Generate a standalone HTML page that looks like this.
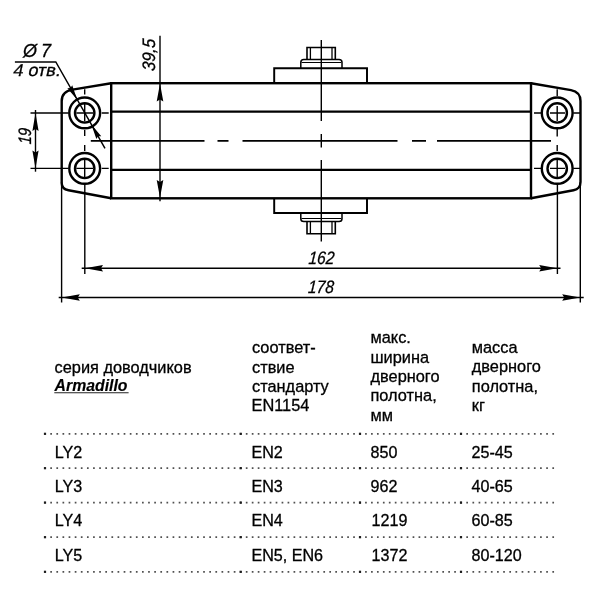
<!DOCTYPE html>
<html lang="ru">
<head>
<meta charset="utf-8">
<title>Armadillo LY</title>
<style>
html,body{margin:0;padding:0;background:#fff;}
body{width:600px;height:600px;overflow:hidden;}
svg{display:block;will-change:transform;}
.tk{stroke:#000;stroke-width:2.4;fill:none;stroke-linejoin:miter;stroke-linecap:butt;}
.md{stroke:#000;stroke-width:1.7;fill:none;}
.tn{stroke:#000;stroke-width:1.4;fill:none;}
.ar{fill:#000;stroke:none;}
.dim{font-family:"Liberation Sans",sans-serif;font-style:italic;font-size:18px;fill:#000;stroke:#000;stroke-width:0.3px;}
.t{font-family:"Liberation Sans",sans-serif;font-size:16.35px;fill:#000;stroke:#000;stroke-width:0.3px;}
.dots{stroke:#505050;stroke-width:1.7;fill:none;}
</style>
</head>
<body>
<svg width="600" height="600" viewBox="0 0 600 600">
<rect width="600" height="600" fill="#fff"/>

<!-- ===== BODY OUTLINE ===== -->
<g class="tk">
  <!-- main body -->
  <rect x="111.2" y="83.2" width="419.8" height="115.1"/>
  <line x1="111.2" y1="111.6" x2="531" y2="111.6"/>
  <line x1="111.2" y1="169.9" x2="531" y2="169.9"/>
  <!-- left bracket -->
  <path d="M111.2 83.2 L72.5 89.6 Q61.7 91.4 61.7 101 L61.7 183 Q61.7 189 68.5 190.3 L111.2 198.3"/>
  <!-- right bracket -->
  <path d="M531 83.2 L571 90.1 Q580.5 92 580.5 101 L580.5 182 Q580.5 189 573.5 190.3 L531 198.3"/>
  <!-- holes -->
  <circle cx="84.7" cy="112.9" r="15.4"/>
  <circle cx="84.7" cy="112.9" r="9.7"/>
  <circle cx="84.7" cy="168.4" r="15.4"/>
  <circle cx="84.7" cy="168.4" r="9.7"/>
  <circle cx="557.2" cy="112.9" r="15.4"/>
  <circle cx="557.2" cy="112.9" r="9.7"/>
  <circle cx="557.2" cy="168.4" r="15.4"/>
  <circle cx="557.2" cy="168.4" r="9.7"/>
</g>

<!-- plates and bolts -->
<g class="tk" style="stroke-width:1.95">
  <!-- top plate -->
  <path d="M274.2 83.2 V68.3 H367 V83.2"/>
  <!-- top washer -->
  <path d="M300.8 68.3 V62.3 Q300.8 59.5 303.8 59.5 H339 Q342 59.5 342 62.3 V68.3" style="stroke-width:1.5"/>
  <line x1="301.5" y1="62.5" x2="341.3" y2="62.5" style="stroke-width:1"/>
  <!-- top bolt head -->
  <path d="M307 59.4 V47.5 H335.3 V59.4" style="stroke-width:1.6"/>
  <line x1="310.4" y1="47.5" x2="310.4" y2="59.4" style="stroke-width:1.3"/>
  <line x1="332" y1="47.5" x2="332" y2="59.4" style="stroke-width:1.3"/>
  <!-- bottom plate -->
  <path d="M274.2 198.3 V213 H367 V198.3"/>
  <!-- bottom washer -->
  <path d="M300.8 213 V218.7 Q300.8 221.5 303.8 221.5 H339 Q342 221.5 342 218.7 V213" style="stroke-width:1.5"/>
  <line x1="301.5" y1="218.5" x2="341.3" y2="218.5" style="stroke-width:1"/>
  <!-- bottom bolt head -->
  <path d="M307 221.6 V233.7 H335.3 V221.6" style="stroke-width:1.6"/>
  <line x1="310.4" y1="221.6" x2="310.4" y2="233.7" style="stroke-width:1.3"/>
  <line x1="332" y1="221.6" x2="332" y2="233.7" style="stroke-width:1.3"/>
</g>

<!-- ===== CENTER LINES ===== -->
<g class="md">
  <!-- horizontal axis -->
  <path d="M90.8 140.8 H204.5 M217.5 140.8 H228.5 M242.5 140.8 H397.5 M412 140.8 H426 M437 140.8 H551"/>
</g>
<g class="tn">
  <!-- vertical axis through bolts -->
  <path d="M321.3 40 V121 M321.3 134 V147.5 M321.3 160 V241.5"/>
  <!-- hole axes left -->
  <path d="M84.7 89.2 V94.5 M84.7 104 V121.5 M84.7 130 V136 M84.7 145 V151 M84.7 159.5 V177"/>
  <path d="M76.3 113 H93 M101.7 113 H108.7 M76.3 168.4 H93 M101.7 168.4 H108.7"/>
  <!-- hole axes right -->
  <path d="M557.2 89.2 V96 M557.2 106 V121 M557.2 127.5 V136.5 M557.2 145 V151 M557.2 159.5 V177"/>
  <path d="M534 113 H541.5 M550 113 H565 M573.3 113 H580 M534 168.4 H541.5 M550 168.4 H565 M573.3 168.4 H580"/>
</g>

<!-- ===== DIMENSIONS ===== -->
<g class="tn">
  <!-- 19 -->
  <line x1="30.5" y1="113" x2="68.5" y2="113"/>
  <line x1="30.5" y1="168.4" x2="68.5" y2="168.4"/>
  <line x1="35.5" y1="110" x2="35.5" y2="171.7"/>
  <!-- 39,5 -->
  <line x1="160" y1="35.8" x2="160" y2="201.3"/>
  <!-- extension lines down -->
  <line x1="61.6" y1="182" x2="61.6" y2="302.5"/>
  <line x1="84.8" y1="184" x2="84.8" y2="274"/>
  <line x1="557.4" y1="184" x2="557.4" y2="274"/>
  <line x1="580.3" y1="182" x2="580.3" y2="302.5"/>
  <!-- 162 / 178 -->
  <line x1="81.7" y1="268.3" x2="560.5" y2="268.3"/>
  <line x1="58.7" y1="297.5" x2="583.7" y2="297.5"/>
  <!-- leader -->
  <path d="M14.9 62 H55.8 L105 148.3" style="stroke-width:1.45"/>
</g>
<g class="ar">
  <!-- 19 arrows -->
  <path d="M35.5 113 L38.6 131 L35.5 129 L32.4 131 Z"/>
  <path d="M35.5 168.4 L38.6 150.4 L35.5 152.4 L32.4 150.4 Z"/>
  <!-- 39,5 arrows -->
  <path d="M160 83.5 L163.3 101.5 L160 99.5 L156.7 101.5 Z"/>
  <path d="M160 197.8 L163.3 180 L160 182 L156.7 180 Z"/>
  <!-- 162 arrows -->
  <path d="M85 268.3 L103 265.1 L101 268.3 L103 271.5 Z"/>
  <path d="M557.2 268.3 L539.2 265.1 L541.2 268.3 L539.2 271.5 Z"/>
  <!-- 178 arrows -->
  <path d="M61.8 297.5 L79.8 294.3 L77.8 297.5 L79.8 300.7 Z"/>
  <path d="M580.2 297.5 L562.2 294.3 L564.2 297.5 L562.2 300.7 Z"/>
  <!-- leader arrows -->
  <g transform="translate(77.2,99.8) rotate(60.4)"><path d="M0 0 L-15 -2.8 L-13.5 0 L-15 2.8 Z"/></g>
  <g transform="translate(91.4,124.6) rotate(240.4)"><path d="M0 0 L-15 -2.8 L-13.5 0 L-15 2.8 Z"/></g>
</g>

<!-- dimension texts -->
<g class="dim">
  <text transform="translate(41.1 57.4) scale(1 1.02)">7</text>
  <!-- diameter sign -->
  <text transform="translate(22.9 57.3) scale(1.02 1)" font-size="17.6">Ø</text>
  <text font-style="normal" font-size="17.2" transform="translate(12.4 76.4) skewX(-12) scale(1.05 1)">4 отв.</text>
  <text transform="translate(31 144.6) rotate(-90) skewX(-4) scale(0.81 1)">19</text>
  <text transform="translate(155.2 71.3) rotate(-90) skewX(-4) scale(0.92 1)">39,5</text>
  <text transform="translate(308.2 263.8) skewX(-4) scale(0.86 1)">162</text>
  <text transform="translate(307.7 293) skewX(-4) scale(0.86 1)">178</text>
</g>

<!-- ===== TABLE ===== -->
<g class="t" transform="translate(0 0.4)">
  <text x="54.6" y="373">серия доводчиков</text>
  <text x="54.6" y="390.4" font-weight="bold" font-style="italic" style="font-size:15.8px;stroke-width:0.15px">Armadillo</text>
  <line x1="54.3" y1="392.3" x2="128.6" y2="392.3" style="stroke:#222;stroke-width:1.1px"/>

  <text x="252" y="353">соответ-</text>
  <text x="252" y="372.2">ствие</text>
  <text x="252" y="391.4">стандарту</text>
  <text x="251.5" y="411">EN1154</text>

  <text x="370.5" y="343">макс.</text>
  <text x="370.5" y="362.4">ширина</text>
  <text x="370.5" y="381.7">дверного</text>
  <text x="370.5" y="401.1">полотна,</text>
  <text x="370.5" y="420.4">мм</text>

  <text x="471.8" y="352.5">масса</text>
  <text x="471.8" y="371.8">дверного</text>
  <text x="471.8" y="391.2">полотна,</text>
  <text x="471.8" y="410.5">кг</text>

  <g transform="translate(0 0.2)" style="font-size:16.1px">
  <text x="54.7" y="457.2">LY2</text>
  <text x="54.7" y="491.5">LY3</text>
  <text x="54.7" y="525.8">LY4</text>
  <text x="54.7" y="560.0">LY5</text>

  <text x="251.5" y="457.2">EN2</text>
  <text x="251.5" y="491.5">EN3</text>
  <text x="251.5" y="525.8">EN4</text>
  <text x="251.5" y="560.0">EN5, EN6</text>

  <text x="370.5" y="457.2">850</text>
  <text x="370.5" y="491.5">962</text>
  <text x="371.6" y="525.8">1219</text>
  <text x="371.6" y="560.0">1372</text>

  <text x="471.5" y="457.2">25-45</text>
  <text x="471.5" y="491.5">40-65</text>
  <text x="471.5" y="525.8">60-85</text>
  <text x="471.5" y="560.0">80-120</text>
  </g>
</g>

<g class="dots">
  <line x1="44.15" y1="433.8" x2="241.55" y2="433.8" stroke-dasharray="1.7 4.416"/>
  <line x1="239.85" y1="433.8" x2="360.85" y2="433.8" stroke-dasharray="1.7 4.265"/>
  <line x1="359.15" y1="433.8" x2="461.85" y2="433.8" stroke-dasharray="1.7 4.241"/>
  <line x1="460.15" y1="433.8" x2="554.05" y2="433.8" stroke-dasharray="1.7 4.447"/>
  <rect x="43.90" y="432.70" width="2.2" height="2.2" fill="#1c1c1c" stroke="none"/>
  <rect x="239.60" y="432.70" width="2.2" height="2.2" fill="#1c1c1c" stroke="none"/>
  <rect x="358.90" y="432.70" width="2.2" height="2.2" fill="#1c1c1c" stroke="none"/>
  <rect x="459.90" y="432.70" width="2.2" height="2.2" fill="#1c1c1c" stroke="none"/>
  <line x1="44.15" y1="468.2" x2="241.55" y2="468.2" stroke-dasharray="1.7 4.416"/>
  <line x1="239.85" y1="468.2" x2="360.85" y2="468.2" stroke-dasharray="1.7 4.265"/>
  <line x1="359.15" y1="468.2" x2="461.85" y2="468.2" stroke-dasharray="1.7 4.241"/>
  <line x1="460.15" y1="468.2" x2="554.05" y2="468.2" stroke-dasharray="1.7 4.447"/>
  <rect x="43.90" y="467.10" width="2.2" height="2.2" fill="#1c1c1c" stroke="none"/>
  <rect x="239.60" y="467.10" width="2.2" height="2.2" fill="#1c1c1c" stroke="none"/>
  <rect x="358.90" y="467.10" width="2.2" height="2.2" fill="#1c1c1c" stroke="none"/>
  <rect x="459.90" y="467.10" width="2.2" height="2.2" fill="#1c1c1c" stroke="none"/>
  <line x1="44.15" y1="502.6" x2="241.55" y2="502.6" stroke-dasharray="1.7 4.416"/>
  <line x1="239.85" y1="502.6" x2="360.85" y2="502.6" stroke-dasharray="1.7 4.265"/>
  <line x1="359.15" y1="502.6" x2="461.85" y2="502.6" stroke-dasharray="1.7 4.241"/>
  <line x1="460.15" y1="502.6" x2="554.05" y2="502.6" stroke-dasharray="1.7 4.447"/>
  <rect x="43.90" y="501.50" width="2.2" height="2.2" fill="#1c1c1c" stroke="none"/>
  <rect x="239.60" y="501.50" width="2.2" height="2.2" fill="#1c1c1c" stroke="none"/>
  <rect x="358.90" y="501.50" width="2.2" height="2.2" fill="#1c1c1c" stroke="none"/>
  <rect x="459.90" y="501.50" width="2.2" height="2.2" fill="#1c1c1c" stroke="none"/>
  <line x1="44.15" y1="537.2" x2="241.55" y2="537.2" stroke-dasharray="1.7 4.416"/>
  <line x1="239.85" y1="537.2" x2="360.85" y2="537.2" stroke-dasharray="1.7 4.265"/>
  <line x1="359.15" y1="537.2" x2="461.85" y2="537.2" stroke-dasharray="1.7 4.241"/>
  <line x1="460.15" y1="537.2" x2="554.05" y2="537.2" stroke-dasharray="1.7 4.447"/>
  <rect x="43.90" y="536.10" width="2.2" height="2.2" fill="#1c1c1c" stroke="none"/>
  <rect x="239.60" y="536.10" width="2.2" height="2.2" fill="#1c1c1c" stroke="none"/>
  <rect x="358.90" y="536.10" width="2.2" height="2.2" fill="#1c1c1c" stroke="none"/>
  <rect x="459.90" y="536.10" width="2.2" height="2.2" fill="#1c1c1c" stroke="none"/>
  <line x1="44.15" y1="571.8" x2="241.55" y2="571.8" stroke-dasharray="1.7 4.416"/>
  <line x1="239.85" y1="571.8" x2="360.85" y2="571.8" stroke-dasharray="1.7 4.265"/>
  <line x1="359.15" y1="571.8" x2="461.85" y2="571.8" stroke-dasharray="1.7 4.241"/>
  <line x1="460.15" y1="571.8" x2="554.05" y2="571.8" stroke-dasharray="1.7 4.447"/>
  <rect x="43.90" y="570.70" width="2.2" height="2.2" fill="#1c1c1c" stroke="none"/>
  <rect x="239.60" y="570.70" width="2.2" height="2.2" fill="#1c1c1c" stroke="none"/>
  <rect x="358.90" y="570.70" width="2.2" height="2.2" fill="#1c1c1c" stroke="none"/>
  <rect x="459.90" y="570.70" width="2.2" height="2.2" fill="#1c1c1c" stroke="none"/>
</g>
</svg>
</body>
</html>
